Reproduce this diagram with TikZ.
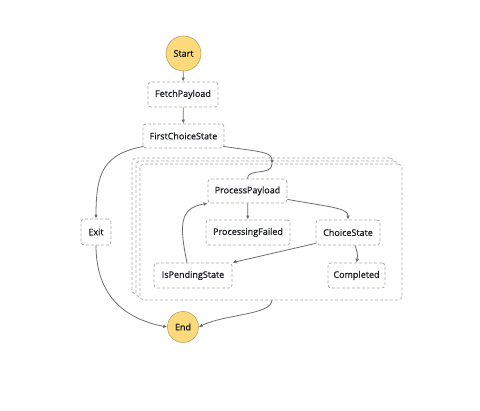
\documentclass[tikz,border=0pt]{standalone}
\usepackage{fontspec}
\setmainfont{Open Sans}[FakeBold=0.5]
\newfontfamily\termfont{Open Sans}[FakeBold=1.2]
\usetikzlibrary{arrows.meta}
\definecolor{termfill}{HTML}{FCD97A}
\definecolor{termdraw}{HTML}{B8A26E}
\definecolor{boxdraw}{HTML}{ABABAB}
\definecolor{edge}{HTML}{6E6E6E}
\definecolor{txt}{HTML}{16191F}
\begin{document}
\begin{tikzpicture}[x=1pt,y=-1pt,
  every node/.style={font=\fontsize{9}{10}\selectfont, text=txt, inner sep=0pt},
  term/.style={circle, fill=termfill, draw=termdraw, line width=0.6pt,
    font=\fontsize{9}{10}\selectfont\termfont},
  statebox/.style={rectangle, rounded corners=3pt, draw=boxdraw, line width=0.8pt,
    dash pattern=on 3pt off 2pt, fill=white},
  maplayer/.style={rectangle, rounded corners=4pt, draw=boxdraw, line width=0.7pt,
    dash pattern=on 3pt off 2pt, fill=white, minimum width=262pt, minimum height=136pt},
  conn/.style={draw=edge, line width=0.8pt},
  arr/.style={conn, -{Latex[length=4pt,width=3.6pt]}}
]
\useasboundingbox (0,0) rectangle (480,411);
% map stack
\node[maplayer] (map3) at (263,226) {};
\node[maplayer] (map2) at (267,229) {};
\node[maplayer] (map) at (271,232) {};
\coordinate (mapin) at (272,164);
\coordinate (mapout) at (272,300);

\node[term, minimum size=35pt] (start) at (183.5,53.5) {Start};
\node[statebox, minimum width=70pt, minimum height=25pt] (fetch) at (183,94.5) {FetchPayload};
\node[statebox, minimum width=81pt, minimum height=24pt] (fcs) at (183.5,136) {FirstChoiceState};
\node[statebox, minimum width=30pt, minimum height=26pt] (exit) at (96,232) {Exit};
\node[statebox, minimum width=79pt, minimum height=24pt] (pp) at (247.5,191) {ProcessPayload};
\node[statebox, minimum width=84pt, minimum height=25pt] (pf) at (248,232.5) {ProcessingFailed};
\node[statebox, minimum width=64pt, minimum height=25pt] (cs) at (348,232.5) {ChoiceState};
\node[statebox, minimum width=78pt, minimum height=25pt] (isp) at (193,275.5) {IsPendingState};
\node[statebox, minimum width=57pt, minimum height=25pt] (comp) at (356.5,275.5) {Completed};
\node[term, minimum size=31pt] (end) at (183,327) {End};

\draw[arr] (start) -- (fetch);
\draw[arr] (fetch) -- (fcs);
\draw[arr] (fcs.south west) ++(1,-2) .. controls (104,154) and (96,172) .. (exit.north);
\draw[arr] (fcs.south east) ++(-1,-2) .. controls (262,152) and (272,152) .. (mapin);
\draw[conn] (mapin) .. controls (272,176) and (247,168) .. (pp.north);
\draw[arr] (pp) -- (pf);
\draw[arr] (pp.south east) ++(0,-4) .. controls (330,207) and (348,208) .. (cs.north);
\draw[arr] (cs.south west) ++(0,-2) -- (isp.north east);
\draw[arr] (cs.south) ++(7,0) .. controls (357,250) and (358,255) .. (comp.north);
\draw[arr] (isp.north) ++(-6,0) .. controls (180,228) and (178,208) .. (pp.south west);
\draw[arr] (exit.south) .. controls (96,300) and (130,320) .. (end.west);
\draw[arr] (mapout) .. controls (272,315) and (225,314) .. (end.east);
\end{tikzpicture}
\end{document}
